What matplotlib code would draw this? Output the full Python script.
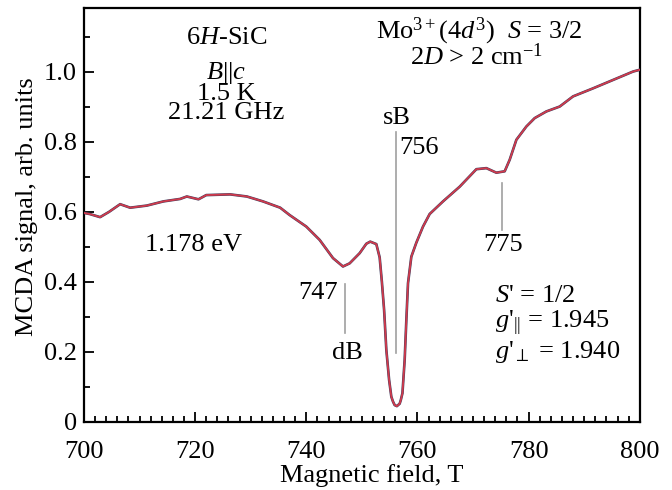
import matplotlib
matplotlib.use("Agg")
import matplotlib.pyplot as plt
from matplotlib.ticker import MultipleLocator, FuncFormatter

plt.rcParams['font.family'] = ['Liberation Serif', 'DejaVu Serif']
plt.rcParams['mathtext.fontset'] = 'custom'
plt.rcParams['mathtext.rm'] = 'Liberation Serif'
plt.rcParams['mathtext.it'] = 'Liberation Serif:italic'
plt.rcParams['mathtext.bf'] = 'Liberation Serif:bold'

field = [700.0, 701.0, 702.9, 704.5, 706.5, 708.3, 711.3, 714.3, 717.3, 718.5,
         720.6, 722.0, 726.3, 729.3, 732.2, 735.3, 737.0, 740.0, 742.4, 744.8,
         746.6, 747.8, 749.6, 750.8, 751.5, 752.6, 753.2, 753.6, 754.0, 754.4,
         754.9, 755.3, 755.6, 755.9, 756.3, 756.8, 757.0, 757.3, 757.7, 758.0,
         758.3, 758.9, 759.8, 761.0, 762.2, 764.6, 767.6, 770.6, 772.4, 774.2,
         775.7, 776.6, 777.8, 779.6, 781.1, 783.2, 785.6, 788.0, 791.6, 795.2,
         798.8, 800.0]
signal = [0.597, 0.594, 0.585, 0.600, 0.622, 0.612, 0.618, 0.630, 0.637, 0.644,
          0.636, 0.648, 0.650, 0.644, 0.630, 0.612, 0.591, 0.558, 0.520, 0.468,
          0.444, 0.453, 0.482, 0.509, 0.515, 0.508, 0.470, 0.400, 0.320, 0.206,
          0.120, 0.072, 0.058, 0.048, 0.045, 0.052, 0.062, 0.082, 0.177, 0.290,
          0.396, 0.472, 0.512, 0.558, 0.594, 0.630, 0.672, 0.722, 0.725, 0.712,
          0.716, 0.749, 0.806, 0.844, 0.868, 0.887, 0.901, 0.930, 0.953, 0.977,
          1.001, 1.006]

# marker lines: (field, y_start, y_end)
markers_B = [747.0, 756.2, 775.3]
markers_y0 = [0.254, 0.196, 0.549]
markers_y1 = [0.394, 0.827, 0.682]

fig = plt.figure(figsize=(6.72, 4.90), dpi=100)
ax = fig.add_axes([0.125, 0.139, 0.827, 0.845])

ax.plot(field, signal, color='#3d4060', lw=1.9, zorder=3)
ax.plot(field, signal, color='#d03a4c', lw=1.3, zorder=4)

for b, y0, y1 in zip(markers_B, markers_y0, markers_y1):
    ax.plot([b, b], [y0, y1], color='#a0a0a0', lw=1.2, zorder=2)

ax.set_xlim(700, 800)
ax.set_ylim(0, 1.183)
ax.xaxis.set_major_locator(MultipleLocator(20))
ax.xaxis.set_minor_locator(MultipleLocator(2))
ax.yaxis.set_major_locator(MultipleLocator(0.2))
ax.yaxis.set_minor_locator(MultipleLocator(0.1))
ax.yaxis.set_major_formatter(FuncFormatter(lambda v, p: '0' if abs(v) < 1e-9 else f'{v:.1f}'))
ax.tick_params(which='both', direction='in', top=False, right=False, labelsize=19, width=1.3)
ax.tick_params(which='major', length=7)
ax.tick_params(which='minor', length=4.5)
ax.tick_params(axis='x', pad=13.5)
ax.tick_params(axis='y', pad=5)
for s in ax.spines.values():
    s.set_linewidth(1.6)

ax.set_xlabel('Magnetic field, T', fontsize=19, labelpad=1)
ax.set_ylabel('MCDA signal, arb. units', fontsize=19, labelpad=4)
ax.xaxis.label.set_x(0.517)
ax.yaxis.label.set_y(0.52)

fs = 19
ax.text(725.6, 1.098, r'6$H$-SiC', fontsize=fs, ha='center', va='center')
ax.text(725.6, 0.998, r'$B$||$c$', fontsize=fs, ha='center', va='center')
ax.text(725.6, 0.937, '1.5 K', fontsize=fs, ha='center', va='center')
ax.text(725.6, 0.882, '21.21 GHz', fontsize=fs, ha='center', va='center')
ax.text(771.2, 1.115, r'Mo$^{3+}$(4$d^3$)  $S$ = 3/2', fontsize=fs, ha='center', va='center')
ax.text(770.6, 1.044, r'2$D$ > 2 cm$^{-1}$', fontsize=fs, ha='center', va='center')
ax.text(756.3, 0.867, 'sB', fontsize=fs, ha='center', va='center')
ax.text(756.7, 0.782, '756', fontsize=fs, ha='left', va='center')
ax.text(775.4, 0.506, '775', fontsize=fs, ha='center', va='center')
ax.text(719.7, 0.506, '1.178 eV', fontsize=fs, ha='center', va='center')
ax.text(745.6, 0.368, '747', fontsize=fs, ha='right', va='center')
ax.text(747.4, 0.196, 'dB', fontsize=fs, ha='center', va='center')
ax.text(773.9, 0.361, r"$S$' = 1/2", fontsize=fs, ha='left', va='center')
ax.text(773.9, 0.282, r"$g$'$_{||}$ = 1.945", fontsize=fs, ha='left', va='center')
ax.text(773.9, 0.201, r"$g$'$_{\perp}$ = 1.940", fontsize=fs, ha='left', va='center')

fig.savefig('out.png', dpi=100)
